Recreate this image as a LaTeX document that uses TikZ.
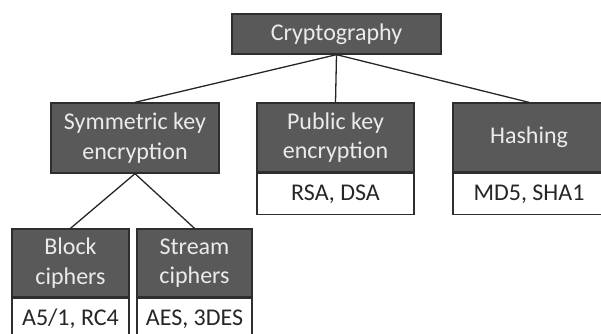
\documentclass[tikz,border=0pt]{standalone}
\usepackage{fontspec}
\setmainfont{Carlito}
\begin{document}
\begin{tikzpicture}[x=1pt,y=-1pt,
  catbox/.style={draw=black!82, line width=1.3pt, fill=black!65, text=black!8,
    inner sep=0pt, align=center,
    font=\fontsize{24}{29.5}\selectfont},
  algbox/.style={draw=black!82, line width=1.3pt, fill=white, text=black!85,
    inner sep=0pt, align=center,
    font=\fontsize{24}{29.5}\selectfont},
  link/.style={draw=black!85, line width=1.3pt}]
\useasboundingbox (0,0) rectangle (601,333);

% root
\node[catbox, minimum width=209pt, minimum height=40pt] (crypto) at (336.5,34) {Cryptography};

% second level
\node[catbox, minimum width=168pt, minimum height=70pt] (sym) at (135,138) {Symmetric key\\encryption};
\node[catbox, minimum width=157pt, minimum height=69pt] (pub) at (335.5,137.5) {Public key\\encryption};
\node[algbox, minimum width=157pt, minimum height=41pt, anchor=north] (pubalg) at (pub.south) {RSA, DSA};
\node[catbox, minimum width=152pt, minimum height=69pt] (hash) at (529,137.5) {Hashing};
\node[algbox, minimum width=152pt, minimum height=41pt, anchor=north] (hashalg) at (hash.south) {MD5, SHA1};

% third level
\node[catbox, minimum width=117pt, minimum height=68pt] (block) at (70.5,263) {Block\\ciphers};
\node[algbox, minimum width=117pt, minimum height=41pt, anchor=north] (blockalg) at (block.south) {A5/1, RC4};
\node[catbox, minimum width=115pt, minimum height=68pt] (stream) at (194.5,263) {Stream\\ciphers};
\node[algbox, minimum width=115pt, minimum height=41pt, anchor=north] (streamalg) at (stream.south) {AES, 3DES};

% connectors
\draw[link] (crypto.south) -- (sym.north);
\draw[link] (crypto.south) -- (pub.north);
\draw[link] (crypto.south) -- (hash.north);
\draw[link] (sym.south) -- (block.north);
\draw[link] (sym.south) -- (stream.north);
\end{tikzpicture}
\end{document}
